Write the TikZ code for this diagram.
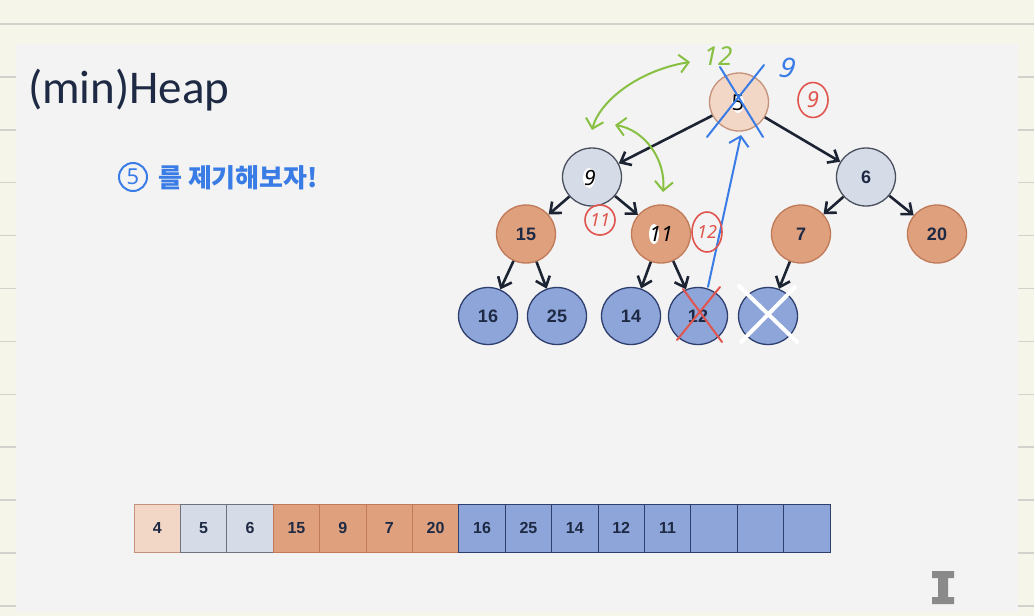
\documentclass[tikz,border=0pt]{standalone}
\usepackage{fontspec}
\setmainfont{Liberation Sans}
\newfontfamily\titlefont{Carlito}
\newfontfamily\handfont{Noto Sans}
\newfontfamily\krfont{Noto Sans CJK KR}
\usetikzlibrary{arrows.meta,shapes.geometric}
\definecolor{cream}{HTML}{F5F5EA}
\definecolor{rule}{HTML}{D2D2CC}
\definecolor{panel}{HTML}{F3F3F3}
\definecolor{navy}{HTML}{1E2A44}
\definecolor{edgecol}{HTML}{1C2333}
\definecolor{peachfill}{HTML}{F2D6C6}
\definecolor{peachdraw}{HTML}{C4917A}
\definecolor{greyfill}{HTML}{D5DBE7}
\definecolor{greydraw}{HTML}{4A4F5E}
\definecolor{orfill}{HTML}{DFA07E}
\definecolor{ordraw}{HTML}{C07A58}
\definecolor{bluefill}{HTML}{8EA5DA}
\definecolor{bluedraw}{HTML}{2E3F6E}
\definecolor{penblue}{HTML}{3A7CE6}
\definecolor{pengreen}{HTML}{88C043}
\definecolor{penred}{HTML}{E0554E}
\definecolor{cursor}{HTML}{8A8A8A}
\tikzset{
  hnode/.style={ellipse, minimum width=59pt, minimum height=58pt, inner sep=0pt, line width=1.3pt,
    font=\bfseries\fontsize{18}{20}\selectfont, text=navy},
  peachnode/.style={hnode, fill=peachfill, draw=peachdraw},
  greynode/.style={hnode, fill=greyfill, draw=greydraw},
  ornode/.style={hnode, fill=orfill, draw=ordraw},
  bluenode/.style={hnode, fill=bluefill, draw=bluedraw, minimum height=57pt},
  edge/.style={draw=edgecol, line width=2.6pt, -{Straight Barb[length=9pt,width=15pt]}},
  cell/.style={rectangle, minimum width=46.4pt, minimum height=48pt, inner sep=0pt, line width=1pt,
    font=\bfseries\fontsize{16}{18}\selectfont, text=navy},
  peachcell/.style={cell, fill=peachfill, draw=peachdraw},
  greycell/.style={cell, fill=greyfill, draw=greydraw!80},
  orcell/.style={cell, fill=orfill, draw=ordraw},
  bluecell/.style={cell, fill=bluefill, draw=bluedraw},
  pen/.style={line width=2pt, line cap=round, line join=round},
  penarrow/.style={pen, {Straight Barb[length=9pt,width=18pt]}-{Straight Barb[length=9pt,width=18pt]}},
  patch/.style={ellipse, fill=white, minimum width=12pt, minimum height=20pt, inner sep=0pt},
  handtext/.style={inner sep=0pt, font=\handfont\fontsize{21}{24}\selectfont\itshape},
}
\begin{document}
\begin{tikzpicture}[x=1pt,y=-1pt]
\useasboundingbox (0,0) rectangle (1034,616);
% background paper
\fill[cream] (0,0) rectangle (1034,616);
\foreach \k in {0,...,11}{
  \draw[rule, line width=1.5pt] (0,{24+52.9*\k}) -- (1034,{24+52.9*\k});
}
\fill[panel] (16,44) rectangle (1018,612);

% title
\node[anchor=base west, inner sep=0pt, text=navy, font=\titlefont\fontsize{47}{50}\selectfont] (title) at (28,103) {(min)Heap};

% handwritten note
\node[circle, draw=penblue, line width=2pt, minimum size=28pt, inner sep=0pt, text=penblue,
  font=\handfont\fontsize{22}{24}\selectfont] (c5) at (133,177) {5};
\node[anchor=west, inner sep=0pt, text=penblue, font=\krfont\bfseries\fontsize{26}{28}\selectfont] (note) at (158,178) {를 제기해보자!};

% tree nodes
\node[peachnode] (root) at (739,102) {};
\node[greynode] (n9) at (592,177) {};
\node[greynode] (n6) at (866,177) {6};
\node[ornode] (n15) at (526,234) {15};
\node[ornode] (n11) at (661,234) {};
\node[ornode] (n7) at (801,234) {7};
\node[ornode] (n20) at (937,234) {20};
\node[bluenode] (n16) at (488,316) {16};
\node[bluenode] (n25) at (557,316) {25};
\node[bluenode] (n14) at (631,316) {14};
\node[bluenode] (n12) at (698,316) {12};
\node[bluenode] (ne) at (768,316) {};

% edges
\draw[edge] (root) -- (n9);
\draw[edge] (root) -- (n6);
\draw[edge] (n9) -- (n15);
\draw[edge] (n9) -- (n11);
\draw[edge] (n6) -- (n7);
\draw[edge] (n6) -- (n20);
\draw[edge] (n15) -- (n16);
\draw[edge] (n15) -- (n25);
\draw[edge] (n11) -- (n14);
\draw[edge] (n11) -- (n12);
\draw[edge] (n7) -- (ne);

% overwritten values on nodes
\node[patch] (p5) at (738,103) {};
\node[handtext, font=\handfont\fontsize{22}{24}\selectfont] (t5) at (738,103) {5};
\node[patch] (p9) at (589,178) {};
\node[handtext] (t9) at (590,178) {9};
\node[patch, minimum width=10pt] (p11) at (654,234) {};
\node[handtext] (t11) at (661,234) {11};

% crosses on removed nodes
\coordinate (rxa) at (677,340); \coordinate (rxb) at (720,287);
\coordinate (rxc) at (683,289); \coordinate (rxd) at (722,342);
\draw[pen, penred] (rxa) -- (rxb);
\draw[pen, penred] (rxc) -- (rxd);
\coordinate (wxa) at (739,286); \coordinate (wxb) at (797,342);
\coordinate (wxc) at (795,287); \coordinate (wxd) at (741,342);
\draw[pen, white, line width=4pt] (wxa) -- (wxb);
\draw[pen, white, line width=4pt] (wxc) -- (wxd);
\coordinate (bxa) at (707,137); \coordinate (bxb) at (764,65);
\coordinate (bxc) at (720,67); \coordinate (bxd) at (763,137);
\draw[pen, penblue] (bxa) -- (bxb);
\draw[pen, penblue] (bxc) -- (bxd);

% blue arrow from 12 up to root
\coordinate (bup) at (741,135);
\draw[pen, penblue, -{Straight Barb[length=9pt,width=20pt]}] (n12.north) ++(10,0) -- (bup);

% green swap arrows
\coordinate (ga1) at (592,130); \coordinate (ga2) at (690,62);
\draw[penarrow, pengreen] (ga1) .. controls (600,100) and (640,70) .. (ga2);
\coordinate (gb1) at (615,125); \coordinate (gb2) at (663,192);
\draw[penarrow, pengreen] (gb1) .. controls (645,130) and (666,160) .. (gb2);
\node[handtext, text=pengreen, font=\handfont\fontsize{26}{28}\selectfont\itshape] (g12) at (718,56) {12};

% blue 9 and red circled labels
\node[handtext, text=penblue, font=\handfont\fontsize{28}{30}\selectfont\itshape, rotate=-10] (b9) at (788,68) {9};
\node[ellipse, draw=penred, line width=1.6pt, minimum width=30pt, minimum height=35pt, inner sep=0pt,
  text=penred, font=\handfont\fontsize{22}{24}\selectfont\itshape] (r9) at (813,100) {9};
\node[ellipse, draw=penred, line width=1.6pt, minimum width=30pt, minimum height=30pt, inner sep=0pt,
  text=penred, font=\handfont\fontsize{18}{20}\selectfont\itshape] (r11) at (600,220) {11};
\node[ellipse, draw=penred, line width=1.6pt, minimum width=30pt, minimum height=40pt, inner sep=0pt,
  text=penred, font=\handfont\fontsize{18}{20}\selectfont\itshape] (r12) at (707,232) {12};

% array
\foreach \i/\v/\s in {0/4/peachcell,1/5/greycell,2/6/greycell,3/15/orcell,4/9/orcell,5/7/orcell,6/20/orcell,
  7/16/bluecell,8/25/bluecell,9/14/bluecell,10/12/bluecell,11/11/bluecell,12//bluecell,13//bluecell,14//bluecell}{
  \node[\s] (a\i) at ({134+23.2+46.4*\i},528) {\v};
}

% text cursor icon
\fill[cursor] (932,571) -- (954,571) -- (954,578) -- (948,578) -- (948,597) -- (954,597) -- (954,604)
  -- (932,604) -- (932,597) -- (938,597) -- (938,578) -- (932,578) -- cycle;
\end{tikzpicture}
\end{document}
